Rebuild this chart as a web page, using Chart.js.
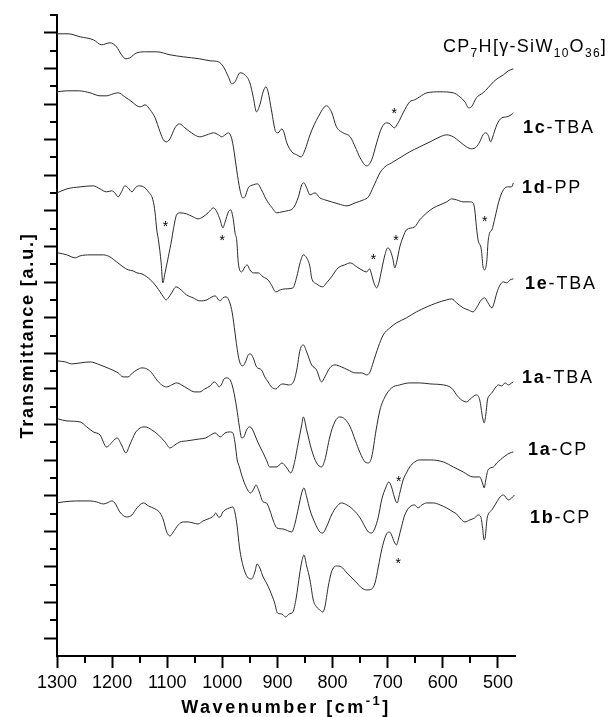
<!DOCTYPE html>
<html>
<head>
<meta charset="utf-8">
<script src="https://cdn.jsdelivr.net/npm/chart.js@4.4.1/dist/chart.umd.min.js"></script>
<style>
  body { margin: 0; background: #fff; }
  #wrap { width: 616px; height: 717px; }
</style>
</head>
<body>
<div id="wrap"><canvas id="ir"></canvas></div>
<script>
// IR spectra. wn = wavenumber [cm-1], t = transmittance [a.u.], top to bottom

var wnCP7H = [1300,1280,1258,1234,1219,1204,1192,1183,1175,1168,1155,1137,1119,1095,1071,1041,1022,1007,998,989,983,977,968,959,950,944,938,932,926,921,917,911,903,899,892,888,883,874,865,857,850,841,826,811,802,793,781,768,759,750,738,729,720,711,702,696,688,681,672,660,651,642,629,605,581,569,560,553,548,539,527,518,508,499,490,481,472];
var tCP7H = [622,622,619,616,611,613,609,601,597,598,603,604,604,601,599,597,595,594,589,579,572,574,583,581,573,559,544,551,564,569,564,546,524,523,527,523,513,504,501,499,506,521,539,550,544,529,523,519,509,498,490,496,513,528,533,532,528,533,543,554,556,559,563,564,563,559,554,548,549,558,563,568,574,578,581,585,587];

var wn1cTBA = [1300,1282,1261,1240,1222,1210,1198,1189,1177,1164,1155,1149,1140,1131,1122,1113,1107,1101,1095,1086,1078,1068,1056,1041,1028,1016,1007,1001,995,989,984,980,974,968,963,959,953,944,936,929,920,911,901,892,883,871,862,856,852,847,841,832,823,814,802,790,774,759,744,735,726,714,705,693,678,660,642,623,605,593,581,569,557,548,539,533,527,522,518,513,510,502,493,484,476,472];
var t1cTBA = [564,565,565,563,560,560,562,563,559,554,550,549,551,546,538,524,516,514,517,528,532,528,523,519,521,523,521,519,521,523,519,509,486,466,458,459,468,471,472,466,456,449,443,444,445,448,459,471,473,468,461,463,458,456,454,452,450,453,456,459,469,483,489,493,498,504,509,514,519,521,519,514,509,507,509,514,521,523,521,514,518,531,538,539,541,543];

var wn1dPP = [1300,1282,1258,1234,1222,1210,1201,1195,1189,1183,1177,1171,1164,1158,1152,1143,1134,1126,1122,1119,1116,1111,1108,1104,1098,1092,1089,1083,1077,1065,1053,1044,1035,1026,1016,1010,1004,999,995,989,985,980,977,974,971,965,959,955,950,944,935,926,917,911,903,895,886,872,865,859,853,847,841,838,829,818,811,802,790,778,768,756,744,738,733,729,725,720,716,711,705,700,696,691,687,684,678,672,666,651,642,629,617,605,593,584,575,563,551,545,542,539,536,530,527,524,520,518,515,511,505,499,493,487,481,475,472];
var t1dPP = [463,467,469,470,467,464,465,463,459,464,470,468,464,468,470,469,464,456,443,426,416,393,373,383,399,416,426,441,443,442,439,437,439,443,448,444,436,428,434,444,446,436,423,416,393,384,389,391,386,383,383,379,376,371,364,366,367,368,379,393,401,398,389,378,372,369,373,379,388,391,393,389,385,384,387,381,373,368,373,386,401,408,406,398,388,393,409,419,426,429,436,443,448,451,454,457,456,454,454,453,446,429,416,406,389,386,396,413,423,426,439,453,463,468,469,469,473];

var wn1eTBA = [1298,1282,1267,1258,1240,1216,1204,1192,1180,1171,1162,1155,1146,1137,1125,1113,1107,1102,1098,1092,1084,1077,1065,1053,1041,1028,1019,1013,1007,1004,999,993,987,982,977,972,968,963,958,953,949,944,938,929,923,917,911,903,895,890,880,871,865,859,853,847,838,829,820,814,805,796,784,772,759,747,738,732,726,717,708,696,684,666,648,629,611,593,584,575,563,554,545,539,530,524,518,511,508,502,496,490,484,478,472];
var t1eTBA = [403,401,398,400,401,401,399,394,389,386,385,383,382,379,373,364,359,356,358,363,369,367,361,358,355,356,359,360,356,355,358,359,354,343,323,303,293,290,294,301,302,298,289,286,279,274,269,267,271,272,271,274,286,306,311,304,291,286,274,279,288,291,289,286,283,283,281,284,294,309,321,328,333,338,344,349,353,356,357,353,348,346,344,348,356,358,353,348,351,363,371,374,373,376,377];

var wn1aTBA = [1298,1285,1273,1258,1240,1222,1204,1189,1180,1171,1163,1155,1146,1137,1128,1119,1110,1101,1092,1083,1074,1062,1050,1041,1032,1022,1015,1010,1006,1001,997,991,985,980,974,969,965,961,956,951,947,941,935,926,920,914,901,892,883,876,871,863,856,853,847,838,829,820,814,805,796,787,778,768,759,750,741,735,729,721,714,705,693,678,660,642,623,599,587,581,575,566,557,548,539,533,528,525,522,519,516,511,505,499,493,487,481,475,472];
var t1aTBA = [295,294,292,293,294,291,287,283,279,279,283,286,288,287,283,276,271,269,271,273,271,267,264,264,267,270,274,272,269,272,277,278,275,266,248,229,218,219,226,229,228,221,213,203,196,189,189,193,188,183,189,211,231,239,226,206,193,189,196,219,234,239,237,229,216,203,194,193,199,226,246,259,268,271,273,273,272,271,269,266,261,256,254,258,261,256,239,233,241,256,260,263,268,271,270,273,271,273,274];

var wn1aCP = [1298,1282,1258,1246,1234,1222,1210,1198,1191,1183,1175,1168,1158,1149,1140,1128,1116,1104,1095,1086,1077,1065,1053,1041,1030,1021,1013,1004,995,987,981,977,973,969,965,956,949,944,939,933,926,920,914,908,901,890,874,868,862,856,852,847,841,832,823,818,811,802,793,784,774,762,750,741,735,729,723,717,711,703,698,693,688,683,678,672,666,660,651,642,623,599,581,563,545,533,528,525,522,518,508,502,496,487,478,472];
var t1aCP = [237,235,234,229,224,221,209,215,218,211,203,211,223,228,229,226,221,214,208,211,214,215,216,217,218,221,223,219,223,224,223,213,196,189,181,168,163,166,171,164,154,153,146,136,128,127,124,133,148,163,168,159,146,133,124,123,129,141,149,153,151,146,138,129,124,123,128,139,156,169,174,169,159,153,163,176,183,189,194,196,196,194,189,184,179,179,173,168,176,186,189,193,196,200,203,204];

var wn1bCP = [1300,1289,1264,1240,1228,1216,1209,1201,1195,1186,1174,1164,1155,1143,1134,1122,1113,1107,1101,1095,1089,1080,1071,1062,1053,1044,1035,1026,1016,1012,1007,1004,999,995,987,981,977,973,969,965,959,953,947,941,937,932,926,920,914,909,905,900,892,885,879,872,866,860,856,852,847,841,835,829,823,818,814,808,802,793,784,774,765,756,747,738,729,723,717,711,703,697,693,688,684,680,675,669,660,651,645,638,629,617,605,593,581,575,569,560,551,542,536,531,528,525,523,520,518,511,502,496,490,481,475,470];
var t1bCP = [153,154,155,155,154,152,153,155,153,144,139,141,148,153,150,147,143,136,124,120,124,131,134,134,133,132,135,137,140,143,139,139,144,146,148,149,143,129,109,96,84,78,77,84,92,88,79,73,66,59,53,43,42,39,42,44,58,81,94,101,90,76,56,49,46,44,49,69,84,90,89,83,78,73,68,66,67,73,89,106,121,124,121,114,111,118,129,141,149,151,148,151,153,153,151,148,144,142,138,134,136,138,141,139,129,116,119,136,141,146,154,159,161,156,158,161];

// asterisks marking bands
var starWn = [688,1103,1000,726,685,524,680,681];
var starT = [546,433,419,400,419,438,178,96];

// axis ticks
var xMajorTicks = [1300,1200,1100,1000,900,800,700,600,500];
var xMinorTicks = [1250,1150,1050,950,850,750,650,550];
var yStep = 17.8;
var yMax = 36 * yStep;
var yMajorTicks = [], yMinorTicks = [];
for (var k = 1; k <= 36; k++) {
    (k % 2 ? yMajorTicks : yMinorTicks).push(k * yStep);
}

var spectra = [
    {wn: wnCP7H, t: tCP7H},
    {wn: wn1cTBA, t: t1cTBA},
    {wn: wn1dPP, t: t1dPP},
    {wn: wn1eTBA, t: t1eTBA},
    {wn: wn1aTBA, t: t1aTBA},
    {wn: wn1aCP, t: t1aCP},
    {wn: wn1bCP, t: t1bCP}
];

// sample names at the right end, y is the baseline in transmittance units
var names = [
    {dx: -72, y: 604, sp: 1.3, runs: [{t: 'CP'}, {t: '7', sub: true}, {t: 'H[\u03b3-SiW'}, {t: '10', sub: true}, {t: 'O'}, {t: '36', sub: true}, {t: ']'}]},
    {dx: 8, y: 523, sp: 1.8, runs: [{t: '1c', b: true}, {t: '-TBA'}]},
    {dx: 7, y: 463, sp: 1.8, runs: [{t: '1d', b: true}, {t: '-PP'}]},
    {dx: 10, y: 367, sp: 1.8, runs: [{t: '1e', b: true}, {t: '-TBA'}]},
    {dx: 7, y: 273, sp: 1.8, runs: [{t: '1a', b: true}, {t: '-TBA'}]},
    {dx: 13, y: 201, sp: 1.8, runs: [{t: '1a', b: true}, {t: '-CP'}]},
    {dx: 15, y: 133, sp: 1.8, runs: [{t: '1b', b: true}, {t: '-CP'}]}
];

var FONT = '"Liberation Sans", Arial, sans-serif';

function runFont(r, size) {
    return (r.b ? 'bold ' : '') + (r.sub ? size - 6 : (r.sup ? size - 5 : size)) + 'px ' + FONT;
}

function drawRuns(ctx, runs, x, y, size, spacing, center) {
    ctx.letterSpacing = spacing + 'px';
    var total = 0;
    runs.forEach(function(r) {
        ctx.font = runFont(r, size);
        total += ctx.measureText(r.t).width;
    });
    var cx = center ? x - total / 2 : x;
    runs.forEach(function(r) {
        ctx.font = runFont(r, size);
        var dy = r.sub ? 5 : (r.sup ? -8 : 0);
        ctx.fillText(r.t, cx, y + dy);
        cx += ctx.measureText(r.t).width;
    });
}

var decorations = {
    id: 'decorations',
    afterDraw: function(chart) {
        var ctx = chart.ctx, xs = chart.scales.x, ys = chart.scales.y, area = chart.chartArea;
        ctx.save();

        // minor ticks
        ctx.strokeStyle = '#000';
        ctx.lineWidth = 2;
        ctx.beginPath();
        xMinorTicks.forEach(function(v) {
            var px = Math.round(xs.getPixelForValue(v));
            ctx.moveTo(px, area.bottom);
            ctx.lineTo(px, area.bottom + 7);
        });
        yMinorTicks.forEach(function(v) {
            var py = Math.round(ys.getPixelForValue(v));
            ctx.moveTo(area.left, py);
            ctx.lineTo(area.left - 7, py);
        });
        ctx.stroke();

        ctx.fillStyle = '#000';
        ctx.textBaseline = 'alphabetic';
        ctx.textAlign = 'left';

        // asterisks
        ctx.font = '14px ' + FONT;
        ctx.textAlign = 'center';
        starWn.forEach(function(w, i) {
            ctx.fillText('*', xs.getPixelForValue(w), ys.getPixelForValue(starT[i]) + 8);
        });
        ctx.textAlign = 'left';

        // sample names
        names.forEach(function(n) {
            drawRuns(ctx, n.runs, area.right + n.dx, ys.getPixelForValue(n.y), 18, n.sp, false);
        });

        // axis titles
        drawRuns(ctx, [{t: 'Wavenumber [cm', b: true}, {t: '-1', b: true, sup: true}, {t: ']', b: true}],
            (area.left + area.right) / 2, area.bottom + 57, 18, 2.5, true);

        ctx.translate(33, (area.top + area.bottom) / 2);
        ctx.rotate(-Math.PI / 2);
        drawRuns(ctx, [{t: 'Transmittance [a.u.]', b: true}], 0, 0, 18, 1.8, true);

        ctx.restore();
    }
};

var ctx = document.getElementById('ir').getContext('2d');
var irChart = new Chart(ctx, {
    type: 'line',
    data: {
        datasets: spectra.map(function(s) {
            return {
                data: s.wn.map(function(w, i) { return {x: w, y: s.t[i]}; }),
                borderColor: '#2a2a2a',
                borderWidth: 1,
                pointRadius: 0,
                fill: false,
                cubicInterpolationMode: 'monotone'
            };
        })
    },
    options: {
        responsive: true,
        maintainAspectRatio: false,
        animation: false,
        layout: { padding: { top: 15, right: 101, left: 0, bottom: 0 } },
        plugins: { legend: { display: false }, tooltip: { enabled: false } },
        scales: {
            x: {
                type: 'linear',
                reverse: true,
                min: 469,
                max: 1300,
                afterBuildTicks: function(scale) {
                    scale.ticks = xMajorTicks.map(function(v) { return {value: v}; });
                },
                afterFit: function(scale) { scale.height = 61; },
                grid: { drawOnChartArea: false, drawTicks: true, tickLength: 12, tickWidth: 2, tickColor: '#000' },
                border: { display: true, width: 2, color: '#000' },
                ticks: {
                    autoSkip: false,
                    maxRotation: 0,
                    padding: 4,
                    color: '#000',
                    font: { family: FONT, size: 18 },
                    callback: function(v) { return String(v); }
                }
            },
            y: {
                type: 'linear',
                min: 0,
                max: yMax,
                afterBuildTicks: function(scale) {
                    scale.ticks = yMajorTicks.map(function(v) { return {value: v}; });
                },
                afterFit: function(scale) { scale.width = 57; },
                grid: { drawOnChartArea: false, drawTicks: true, tickLength: 13, tickWidth: 2, tickColor: '#000' },
                border: { display: true, width: 2, color: '#000' },
                ticks: { display: false }
            }
        }
    },
    plugins: [decorations]
});
</script>
</body>
</html>
